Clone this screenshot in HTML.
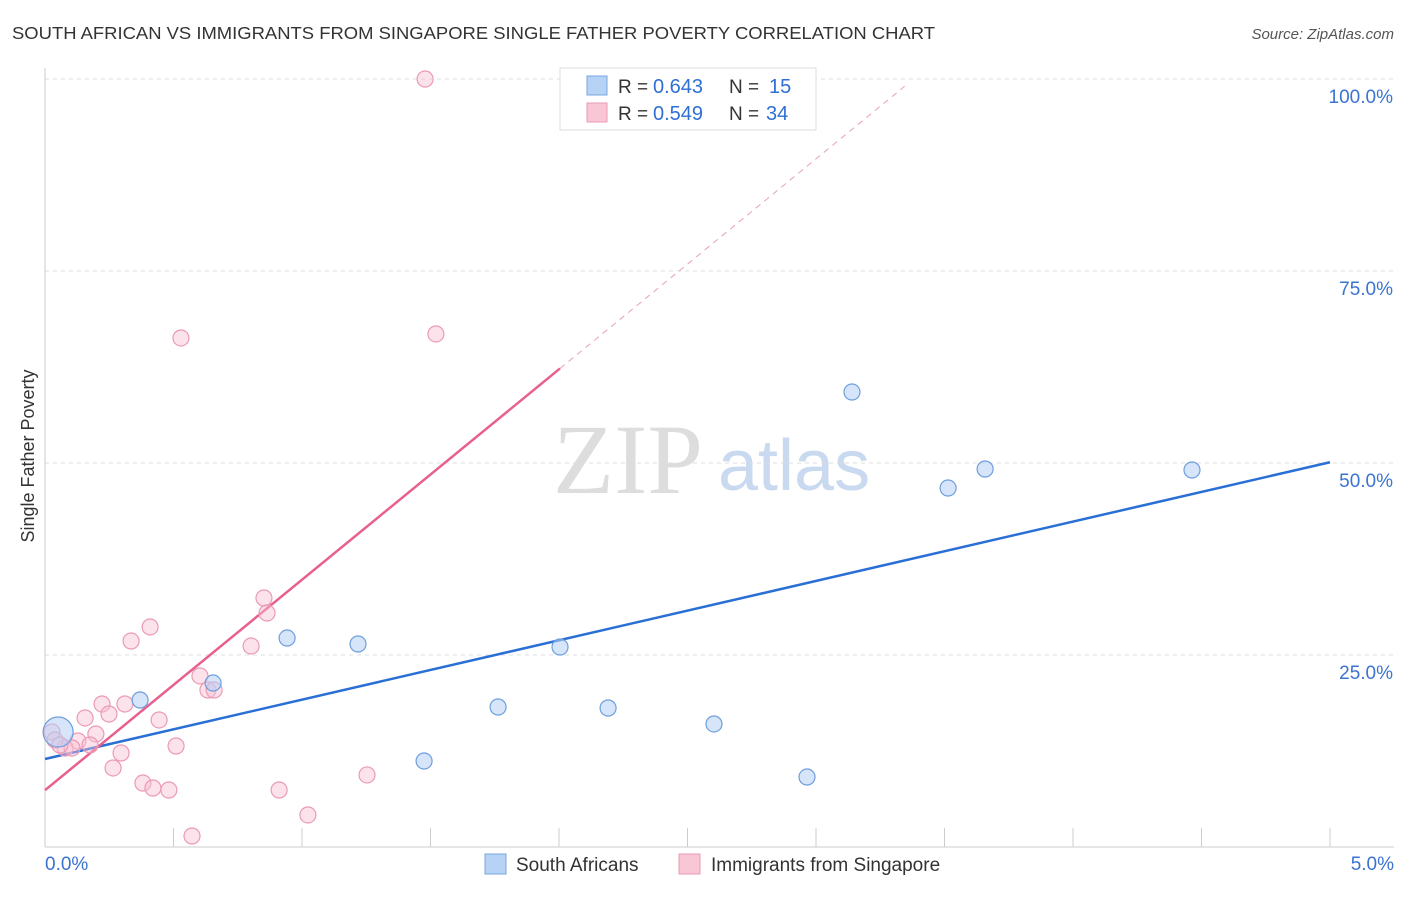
<!DOCTYPE html>
<html><head><meta charset="utf-8"><style>
body{margin:0;background:#fff;font-family:"Liberation Sans",sans-serif}
</style></head><body>
<svg id="c" width="1406" height="892" xmlns="http://www.w3.org/2000/svg" style="font-family:'Liberation Sans',sans-serif">
<text x="12" y="39" font-size="17.5" fill="#333" textLength="923" lengthAdjust="spacingAndGlyphs">SOUTH AFRICAN VS IMMIGRANTS FROM SINGAPORE SINGLE FATHER POVERTY CORRELATION CHART</text>
<text x="1394" y="39" font-size="15" fill="#555" text-anchor="end" font-style="italic">Source: ZipAtlas.com</text>
<text transform="translate(34,456) rotate(-90)" font-size="18" fill="#333" text-anchor="middle">Single Father Poverty</text>
<g><text x="553" y="493" font-size="100" fill="#ddd" font-family="Liberation Serif">ZIP</text><text x="718" y="490" font-size="72" fill="#c9d9ef">atlas</text></g>
<g id="grid"></g><g id="trend"></g><g id="pts"></g>
<g>
<rect x="560" y="68" width="256" height="62" fill="#fff" stroke="#ddd"/>
<rect x="587" y="76" width="20" height="19" fill="#b6d2f5" stroke="#7aa6e0"/>
<rect x="587" y="103" width="20" height="19" fill="#f9c6d6" stroke="#eb9ab4"/>
<text x="618" y="93" font-size="19" fill="#333">R =</text><text x="653" y="93" font-size="20" fill="#2f6fd6">0.643</text>
<text x="729" y="93" font-size="19" fill="#333">N =</text><text x="769" y="93" font-size="20" fill="#2f6fd6">15</text>
<text x="618" y="120" font-size="19" fill="#333">R =</text><text x="653" y="120" font-size="20" fill="#2f6fd6">0.549</text>
<text x="729" y="120" font-size="19" fill="#333">N =</text><text x="766" y="120" font-size="20" fill="#2f6fd6">34</text>
</g>
<g>
<rect x="485" y="854" width="21" height="20" fill="#b6d2f5" stroke="#7aa6e0"/>
<text x="516" y="871" font-size="19" fill="#333">South Africans</text>
<rect x="679" y="854" width="21" height="20" fill="#f9c6d6" stroke="#eb9ab4"/>
<text x="711" y="871" font-size="19" fill="#333">Immigrants from Singapore</text>
</g>
</svg>
<script>
const xTickLabels=["0.0%","5.0%"];
const yTicks=[25,50,75,100];
const yTickLabels=["25.0%","50.0%","75.0%","100.0%"];
const blueX=[0.370,0.654,0.942,1.218,1.475,1.763,2.004,2.191,2.603,2.965,3.140,3.514,3.658,4.463,0.051];
const blueY=[19.14,21.35,27.21,26.43,11.20,18.23,26.04,18.10,16.02,9.11,59.24,46.74,49.22,49.09,14.97];
const pinkX=[1.479,0.529,1.521,0.852,0.864,0.409,0.335,0.802,0.603,0.634,0.658,0.222,0.311,0.249,0.156,0.444,0.198,0.128,0.078,0.105,0.510,0.296,0.265,0.381,0.420,0.482,0.911,1.253,1.023,0.572,0.027,0.039,0.058,0.175];
const pinkY=[100,66.28,66.80,32.42,30.47,28.65,26.82,26.17,22.27,20.44,20.44,18.62,18.62,17.32,16.80,16.54,14.71,13.80,12.89,12.89,13.15,12.24,10.29,8.33,7.68,7.42,7.42,9.38,4.17,1.43,14.97,13.93,13.28,13.28];
const blueTrend=[11.46,50.1];
const pinkTrend=[7.4,27.4];
const NS="http://www.w3.org/2000/svg";
const X=v=>45+v*257, Y=v=>847-v*7.68;
function mk(t,a,p){const e=document.createElementNS(NS,t);for(const k in a)e.setAttribute(k,a[k]);p.appendChild(e);return e;}
const g=document.getElementById('grid');
yTicks.forEach((t,i)=>{
 const l=mk('line',{x1:45,x2:1394,y1:Y(t),y2:Y(t),stroke:'#ddd','stroke-dasharray':'4,4'},g);
 
 
 const tx=mk('text',{x:1393,y:Y(t)+24,'font-size':19,fill:'#3b73d0','text-anchor':'end'},g);tx.textContent=yTickLabels[i];
 
 
});
mk('line',{x1:45,x2:45,y1:68,y2:847,stroke:'#ccc'},g);
mk('line',{x1:45,x2:1394,y1:847,y2:847,stroke:'#ccc'},g);
for(let i=0;i<=10;i++){mk('line',{x1:X(i*0.5),x2:X(i*0.5),y1:828,y2:847,stroke:'#ccc'},g);}
[[0,'start',45],[5,'end',1394]].forEach((d,i)=>{const tx=mk('text',{x:d[2],y:870,'font-size':19,fill:'#3b73d0','text-anchor':d[1]},g);tx.textContent=xTickLabels[i];
 
 });
const tr=document.getElementById('trend');
const bl=mk('line',{x1:X(0),y1:Y(blueTrend[0]),x2:X(5),y2:Y(blueTrend[1]),stroke:'#2a6fd6','stroke-width':2.5},tr);


const pv=x=>pinkTrend[0]+pinkTrend[1]*x;
const pl=mk('line',{x1:X(0),y1:Y(pv(0)),x2:X(2.004),y2:Y(pv(2.004)),stroke:'#e8608e','stroke-width':2.5},tr);


const pd=mk('line',{x1:X(2.004),y1:Y(pv(2.004)),x2:X(3.345),y2:Y(pv(3.345)),stroke:'#e8a0b8','stroke-width':1,'stroke-dasharray':'6,5'},tr);


const pg=document.getElementById('pts');
pinkX.forEach((x,i)=>{const c=mk('circle',{cx:X(x),cy:Y(pinkY[i]),r:8,fill:'rgba(248,190,210,0.45)',stroke:'#eb9ab4','stroke-width':1.2},pg);
 
 });
blueX.forEach((x,i)=>{const c=mk('circle',{cx:X(x),cy:Y(blueY[i]),r:i==14?15:8,fill:'rgba(180,208,245,0.55)',stroke:'#6e9edd','stroke-width':1.2},pg);
 
 });
</script>
</body></html>
